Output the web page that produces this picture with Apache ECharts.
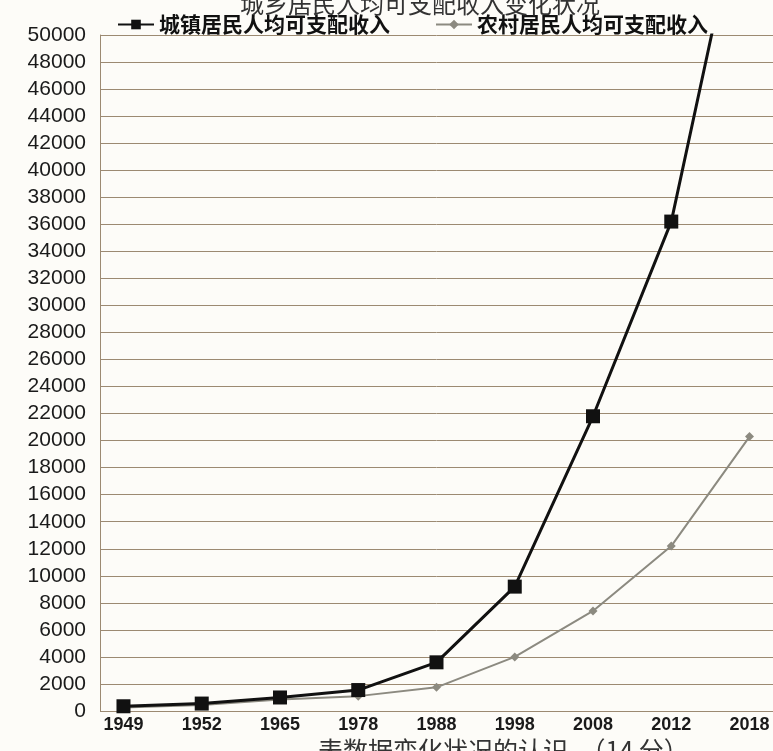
<!DOCTYPE html>
<html>
<head>
<meta charset="utf-8">
<script src="https://cdn.jsdelivr.net/npm/echarts@6/dist/echarts.min.js"></script>
<style>
html,body{margin:0;padding:0;background:#fdfcf8;}
#c{width:773px;height:751px;}
</style>
</head>
<body>
<div id="c"></div>
<script>
// ---- data ----
const years = ['1949','1952','1965','1978','1988','1998','2008','2012','2018'];
const urbanIncome = [350, 550, 1000, 1550, 3600, 9200, 21800, 36200, 63000];
const ruralIncome = [250, 450, 850, 1100, 1750, 4000, 7400, 12200, 20300];
const seriesNames = ['城镇居民人均可支配收入', '农村居民人均可支配收入'];
const yTicks = { min: 0, max: 50000, step: 2000 };
const titleText = '城乡居民人均可支配收入变化状况';
const footText = '表数据变化状况的认识。（14 分）';

const idx = years.map((_, i) => i);
const chart = echarts.init(document.getElementById('c'), null, {renderer: 'canvas'});
chart.setOption({
  backgroundColor: '#fdfcf8',
  animation: false,
  title: {
    text: titleText,
    right: 168, top: -13,
    textStyle: {fontFamily: 'Noto Sans CJK SC', fontWeight: 'normal', fontSize: 24, color: '#333'}
  },
  graphic: [{
    type: 'text', left: 318, top: 738,
    style: {text: footText, font: '25px "Noto Sans CJK SC"', fill: '#333'}
  }],
  legend: {
    top: 9, left: 112, itemGap: 45, itemWidth: 36, itemHeight: 12,
    textStyle: {fontFamily: 'Noto Sans CJK SC', fontWeight: 'bold', fontSize: 21, color: '#111'},
    data: seriesNames
  },
  grid: {left: 100, right: 0, top: 35, bottom: 40},
  xAxis: {
    type: 'value', min: -0.3, max: 8.3,
    splitLine: {show: false},
    axisLine: {show: false},
    axisTick: {show: false},
    axisLabel: {
      customValues: idx,
      formatter: v => years[Math.round(v)],
      margin: 5,
      fontFamily: 'Liberation Sans', fontWeight: 'bold', fontSize: 18, color: '#1a1a1a'
    }
  },
  yAxis: {
    type: 'value', min: yTicks.min, max: yTicks.max, interval: yTicks.step,
    axisLine: {show: true, onZero: false, lineStyle: {color: '#9c8a72', width: 1}},
    axisTick: {show: false},
    splitLine: {show: true, lineStyle: {color: '#9c8a72', width: 1}},
    axisLabel: {
      margin: 14,
      formatter: v => String(v),
      fontFamily: 'Liberation Sans', fontSize: 21, color: '#1a1a1a'
    }
  },
  series: [
    {
      name: seriesNames[1], type: 'line', z: 2,
      data: ruralIncome.map((v, i) => [idx[i], v]),
      symbol: 'diamond', symbolSize: 9,
      lineStyle: {color: '#8c8a80', width: 2},
      itemStyle: {color: '#8c8a80'}
    },
    {
      name: seriesNames[0], type: 'line', z: 3, clip: true,
      data: urbanIncome.map((v, i) => [idx[i], v]),
      symbol: 'rect', symbolSize: 14,
      lineStyle: {color: '#111', width: 3},
      itemStyle: {color: '#111'}
    }
  ]
});
</script>
</body>
</html>
